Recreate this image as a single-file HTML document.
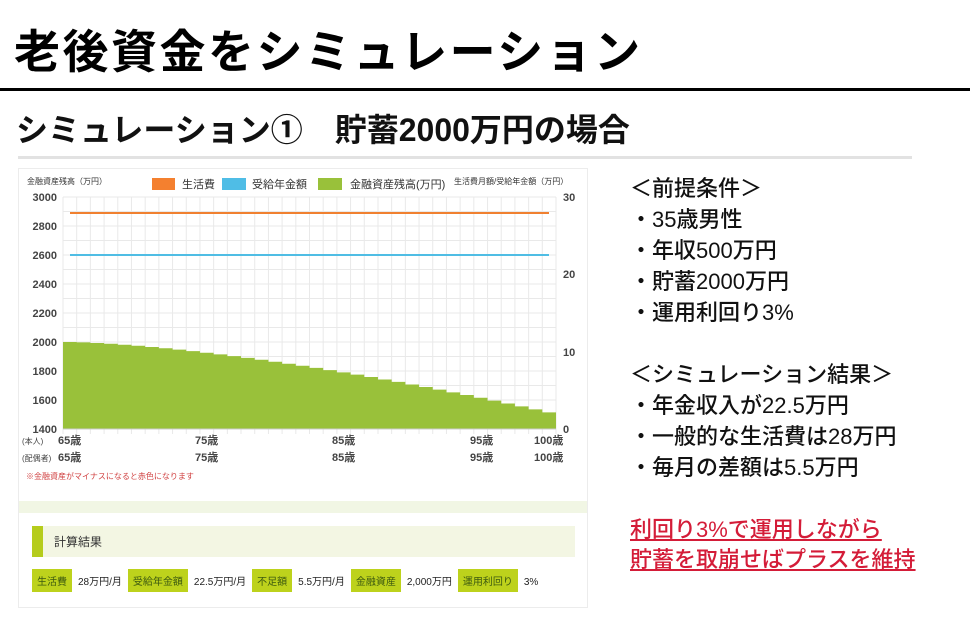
<!DOCTYPE html>
<html><head><meta charset="utf-8"><style>
body{margin:0;width:970px;height:630px;background:#fff;position:relative;overflow:hidden;font-family:"Liberation Sans","Noto Sans CJK JP",sans-serif;}
.a{position:absolute;white-space:nowrap;}
.r{position:absolute;left:630px;font-size:22px;font-weight:500;color:#111;}
.tag{display:inline-block;background:#bdd21c;color:#3d5a10;padding:4px 5px;margin-right:6px;}
.val{margin-right:6px;}
</style></head><body>
<div class="a" style="left:14px;top:16px;font-size:46px;font-weight:bold;letter-spacing:2.5px;color:#000;">老後資金をシミュレーション</div>
<div class="a" style="left:0;top:88px;width:970px;height:3px;background:#000;"></div>
<div class="a" style="left:16px;top:105px;font-size:32px;font-weight:bold;color:#111;">シミュレーション①　貯蓄2000万円の場合</div>
<div class="a" style="left:18px;top:156px;width:894px;height:3px;background:#e2e2e2;"></div>

<div class="a" style="left:18px;top:168px;width:570px;height:440px;border:1px solid #ececec;box-sizing:border-box;background:#fff;"></div>
<svg class="a" style="left:0;top:0" width="600" height="630" font-family="Liberation Sans, Noto Sans CJK JP, sans-serif">
<g id="grid" stroke="#e9e9e9" stroke-width="1"></g>
<path id="area" fill="#99c13a"/>
<line x1="63" y1="429" x2="556" y2="429" stroke="#ccc"/>
<line x1="70" y1="213" x2="549" y2="213" stroke="#f08030" stroke-width="2"/>
<line x1="70" y1="255" x2="549" y2="255" stroke="#4fbde4" stroke-width="2"/>
<text x="27" y="184" font-size="8" fill="#333">金融資産残高（万円）</text>
<text x="454" y="184" font-size="8" fill="#333">生活費月額/受給年金額（万円）</text>
<rect x="152" y="178" width="23" height="12" fill="#f4802f"/><text x="182" y="188" font-size="11" fill="#333">生活費</text>
<rect x="222" y="178" width="24" height="12" fill="#4fbde6"/><text x="252" y="188" font-size="11" fill="#333">受給年金額</text>
<rect x="318" y="178" width="24" height="12" fill="#99c13a"/><text x="350" y="188" font-size="11" fill="#333">金融資産残高(万円)</text>
<g font-size="11" fill="#444" text-anchor="end" font-weight="bold">
<text x="57" y="201">3000</text><text x="57" y="230">2800</text><text x="57" y="259">2600</text><text x="57" y="288">2400</text><text x="57" y="317">2200</text><text x="57" y="346">2000</text><text x="57" y="375">1800</text><text x="57" y="404">1600</text><text x="57" y="433">1400</text>
</g>
<g font-size="11" fill="#444" font-weight="bold">
<text x="563" y="201">30</text><text x="563" y="278">20</text><text x="563" y="356">10</text><text x="563" y="433">0</text>
</g>
<g font-size="11" fill="#444" font-weight="bold">
<text x="58" y="444">65歳</text><text x="195" y="444">75歳</text><text x="332" y="444">85歳</text><text x="470" y="444">95歳</text><text x="534" y="444">100歳</text>
<text x="58" y="461">65歳</text><text x="195" y="461">75歳</text><text x="332" y="461">85歳</text><text x="470" y="461">95歳</text><text x="534" y="461">100歳</text>
</g>
<text x="22" y="444" font-size="8" fill="#444">(本人)</text>
<text x="22" y="461" font-size="8" fill="#444">(配偶者)</text>
<text x="26" y="479" font-size="8" fill="#d04040">※金融資産がマイナスになると赤色になります</text>
<rect x="19" y="501" width="568" height="12" fill="#f1f6e4"/>
<rect x="32" y="526" width="543" height="31" fill="#f3f6e3"/>
<rect x="32" y="526" width="11" height="31" fill="#b5cc1c"/>
<text x="54" y="546" font-size="12" fill="#333">計算結果</text>
</svg>
<div class="a" style="left:32px;top:569px;font-size:10px;color:#222;"><span class="tag">生活費</span><span class="val">28万円/月</span><span class="tag">受給年金額</span><span class="val">22.5万円/月</span><span class="tag">不足額</span><span class="val">5.5万円/月</span><span class="tag">金融資産</span><span class="val">2,000万円</span><span class="tag">運用利回り</span><span>3%</span></div>

<div class="r" style="top:171px;">＜前提条件＞</div>
<div class="r" style="top:202px;">・35歳男性</div>
<div class="r" style="top:233px;">・年収500万円</div>
<div class="r" style="top:264px;">・貯蓄2000万円</div>
<div class="r" style="top:295px;">・運用利回り3%</div>
<div class="r" style="top:357px;">＜シミュレーション結果＞</div>
<div class="r" style="top:388px;">・年金収入が22.5万円</div>
<div class="r" style="top:419px;">・一般的な生活費は28万円</div>
<div class="r" style="top:450px;">・毎月の差額は5.5万円</div>
<div class="r" style="top:512px;color:#d41c38;text-decoration:underline;">利回り3%で運用しながら</div>
<div class="r" style="top:542px;color:#d41c38;text-decoration:underline;">貯蓄を取崩せばプラスを維持</div>
<script>
var x0=63,x1=556,n=36,w=(x1-x0)/n,g=document.getElementById('grid'),s='';
for(var i=0;i<=n;i++){var x=x0+i*w;s+='<line x1="'+x+'" y1="197" x2="'+x+'" y2="434"/>';}
for(var v=1400;v<=3000;v+=100){var y=429-(v-1400)*29/200;s+='<line x1="63" y1="'+y+'" x2="556" y2="'+y+'"/>';}
g.innerHTML=s;
var d='M'+x0+' 429';
for(var i=0;i<n;i++){var t=i/35,val=2000-485*Math.pow(t,1.5),y=429-(val-1400)*29/200;d+=' L'+(x0+i*w)+' '+y+' L'+(x0+(i+1)*w)+' '+y;}
d+=' L'+x1+' 429 Z';
document.getElementById('area').setAttribute('d',d);
</script>
</body></html>
